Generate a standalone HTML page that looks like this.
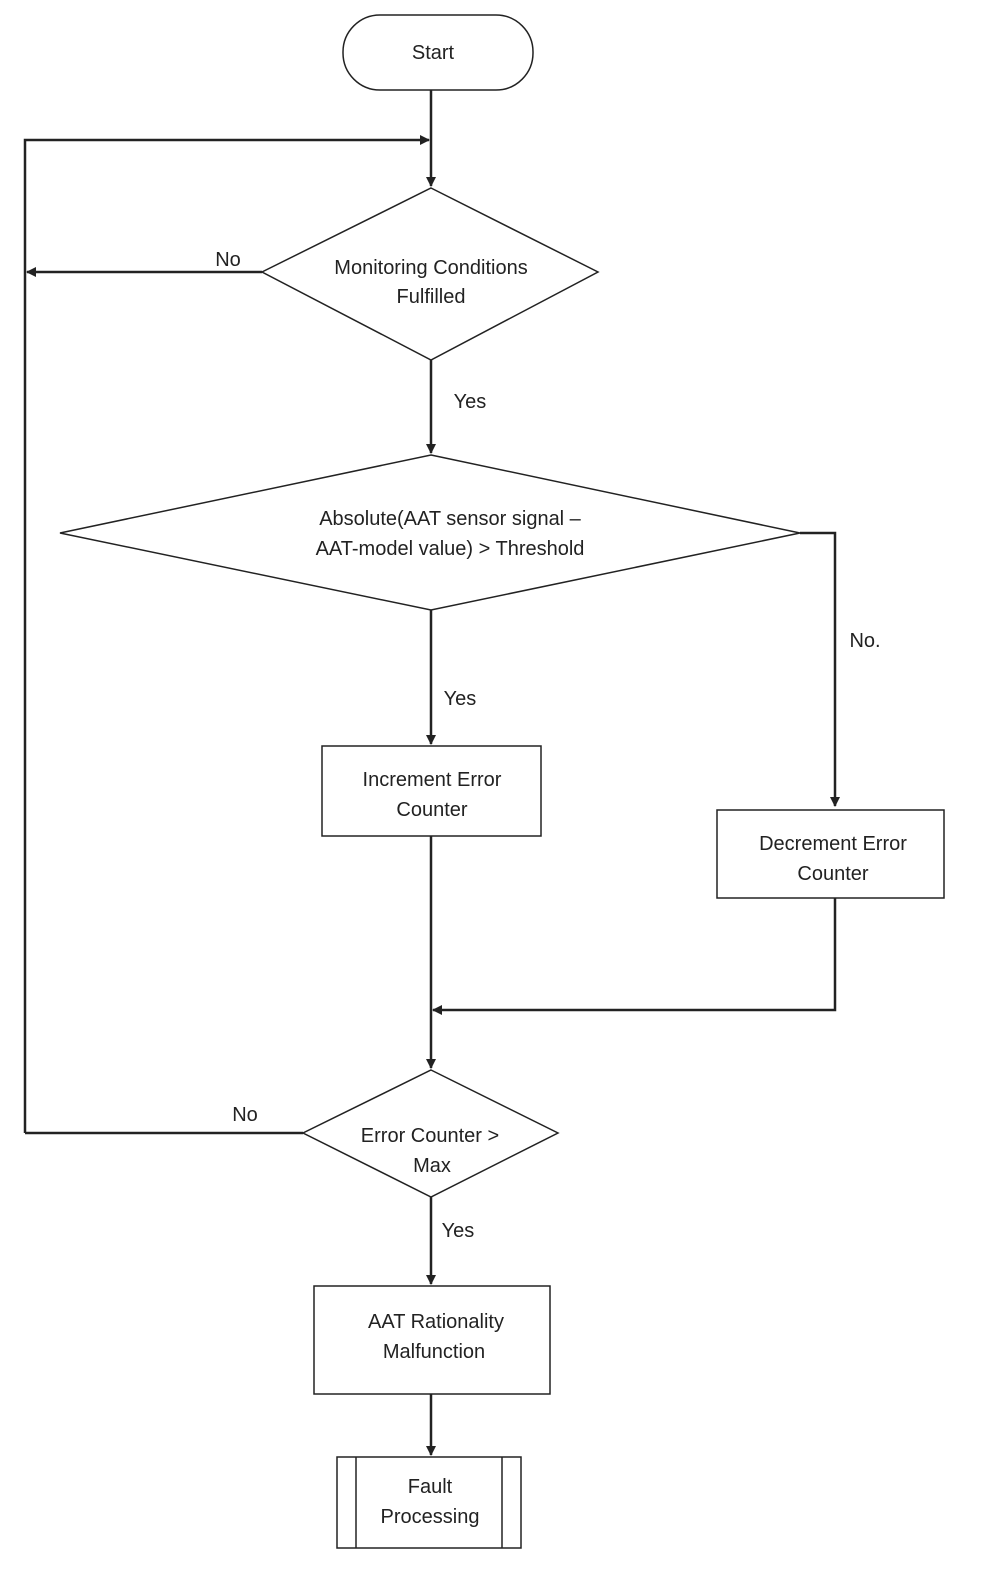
<!DOCTYPE html>
<html><head><meta charset="utf-8"><style>
html,body{margin:0;padding:0;background:#fff;}
svg{display:block}
text{font-family:"Liberation Sans",sans-serif;font-size:20px;fill:#222;text-anchor:middle;}
</style></head><body>
<svg width="992" height="1578" viewBox="0 0 992 1578" xmlns="http://www.w3.org/2000/svg">
<defs><marker id="a" markerWidth="10" markerHeight="10" refX="9" refY="5" orient="auto" markerUnits="userSpaceOnUse"><path d="M0,0 L10,5 L0,10 z" fill="#222"/></marker></defs>
<g stroke="#222" stroke-width="2.5" fill="none">
<rect x="343" y="15" width="190" height="75" rx="37" ry="37" stroke-width="1.5"/>
<line x1="431" y1="90" x2="431" y2="186" marker-end="url(#a)"/>
<polyline points="25,1133 25,140 429,140" marker-end="url(#a)"/>
<polygon points="431,188 598,272 431,360 262,272" stroke-width="1.5"/>
<line x1="262" y1="272" x2="27" y2="272" marker-end="url(#a)"/>
<line x1="431" y1="360" x2="431" y2="453" marker-end="url(#a)"/>
<polygon points="431,455 800,533 431,610 60,533" stroke-width="1.5"/>
<polyline points="800,533 835,533 835,806" marker-end="url(#a)"/>
<line x1="431" y1="610" x2="431" y2="744" marker-end="url(#a)"/>
<rect x="322" y="746" width="219" height="90" stroke-width="1.5"/>
<rect x="717" y="810" width="227" height="88" stroke-width="1.5"/>
<line x1="431" y1="836" x2="431" y2="1068" marker-end="url(#a)"/>
<polyline points="835,898 835,1010 433,1010" marker-end="url(#a)"/>
<polygon points="431,1070 558,1133 431,1197 303,1133" stroke-width="1.5"/>
<line x1="303" y1="1133" x2="25" y2="1133"/>
<line x1="431" y1="1197" x2="431" y2="1284" marker-end="url(#a)"/>
<rect x="314" y="1286" width="236" height="108" stroke-width="1.5"/>
<line x1="431" y1="1394" x2="431" y2="1455" marker-end="url(#a)"/>
<rect x="337" y="1457" width="184" height="91" stroke-width="1.5"/>
<line x1="356" y1="1457" x2="356" y2="1548" stroke-width="1.5"/>
<line x1="502" y1="1457" x2="502" y2="1548" stroke-width="1.5"/>
</g>
<text x="433" y="59">Start</text>
<text x="431" y="274">Monitoring Conditions</text>
<text x="431" y="303">Fulfilled</text>
<text x="228" y="266">No</text>
<text x="470" y="408">Yes</text>
<text x="450" y="525">Absolute(AAT sensor signal –</text>
<text x="450" y="555">AAT-model value) &gt; Threshold</text>
<text x="865" y="647">No.</text>
<text x="460" y="705">Yes</text>
<text x="432" y="786">Increment Error</text>
<text x="432" y="816">Counter</text>
<text x="833" y="850">Decrement Error</text>
<text x="833" y="880">Counter</text>
<text x="245" y="1121">No</text>
<text x="430" y="1142">Error Counter &gt;</text>
<text x="432" y="1172">Max</text>
<text x="458" y="1237">Yes</text>
<text x="436" y="1328">AAT Rationality</text>
<text x="434" y="1358">Malfunction</text>
<text x="430" y="1493">Fault</text>
<text x="430" y="1523">Processing</text>
</svg>
</body></html>
